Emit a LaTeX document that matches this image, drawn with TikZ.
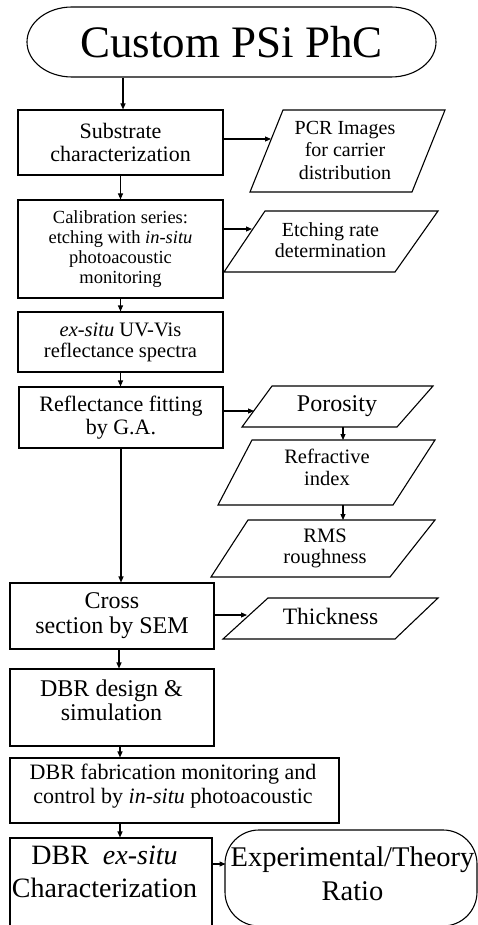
\documentclass[tikz,border=0pt]{standalone}
\usepackage{fontspec}
\setmainfont{Liberation Serif}
\usetikzlibrary{arrows.meta}
\begin{document}
\begin{tikzpicture}[x=1pt,y=-1pt,line width=1.1pt,
  box/.style={draw,rectangle,inner sep=0pt,align=center},
  txt/.style={inner sep=0pt,align=center},
  arr/.style={-{Triangle[length=6pt,width=5pt]},line width=1.1pt},
  par/.style={draw,line join=miter}]
\useasboundingbox (0,0) rectangle (478,925);
\clip (0,0) rectangle (478,925);

% title terminator
\node[txt,minimum width=409pt,minimum height=70pt,font=\fontsize{45}{50}\selectfont] (title) at (231.5,42) {Custom PSi PhC};
\draw (72,7) -- (391,7) .. controls (415.85,7) and (436,22.67) .. (436,42)
  .. controls (436,61.33) and (415.85,77) .. (391,77) -- (72,77)
  .. controls (47.15,77) and (27,61.33) .. (27,42)
  .. controls (27,22.67) and (47.15,7) .. (72,7) -- cycle;

% main column boxes
\node[box,minimum width=205pt,minimum height=65pt,font=\fontsize{22}{23.5}\selectfont] (b1) at (120.5,142.5) {Substrate\\characterization};
\node[box,minimum width=205pt,minimum height=98pt,font=\fontsize{18.5}{20}\selectfont] (b2) at (120.5,249) {Calibration series:\\etching with \textit{in-situ}\\photoacoustic\\monitoring};
\node[box,minimum width=205pt,minimum height=60pt,font=\fontsize{20.5}{21}\selectfont] (b3) at (120.5,342) {\textit{ex-situ} UV-Vis\\reflectance spectra};
\node[box,minimum width=204pt,minimum height=61pt,font=\fontsize{22}{23}\selectfont] (b4) at (121,417.5) {Reflectance fitting\\by G.A.};
\node[box,minimum width=204pt,minimum height=66pt,font=\fontsize{24}{25}\selectfont] (b5) at (112,616) {Cross\\section by SEM};
\node[box,minimum width=204pt,minimum height=77pt] (b6) at (112,707.5) {};
\node[txt,font=\fontsize{24}{24}\selectfont] (b6t) at (111.5,700) {DBR design \&\\simulation};
\node[box,minimum width=329pt,minimum height=65pt] (b7) at (174.5,790.5) {};
\node[txt,font=\fontsize{22}{24}\selectfont] (b7t) at (173,786) {DBR fabrication monitoring and\\control by \textit{in-situ} photoacoustic};
\node[box,minimum width=202pt,minimum height=100pt] (b8) at (111,888) {};
\node[txt,font=\fontsize{28}{33}\selectfont] (b8t) at (104.5,872) {DBR\ \ \textit{ex-situ}\\Characterization};
\node[draw,rounded corners=34pt,minimum width=252pt,minimum height=96pt,inner sep=0pt] (ratio) at (351,878) {};
\node[txt,font=\fontsize{28.5}{34}\selectfont] (ratiot) at (352.5,874) {Experimental/Theory\\Ratio};
\coordinate (ratioin) at (225.5,864);

% side parallelograms
\draw[par] (283,110) -- (445,110) -- (412,192) -- (250,192) -- cycle;
\node[txt,font=\fontsize{20}{22.5}\selectfont] (pcr) at (345,150) {PCR Images\\for carrier\\distribution};
\coordinate (pcrin) at (271,139);

\draw[par] (265,211) -- (438,211) -- (395,272) -- (224,272) -- cycle;
\node[txt,font=\fontsize{20}{21}\selectfont] (etch) at (330.5,240) {Etching rate\\determination};
\coordinate (etchin) at (252,229);

\draw[par] (272,386) -- (433,386) -- (397,427) -- (242,427) -- cycle;
\node[txt,font=\fontsize{24}{26}\selectfont] (por) at (337,406.5) {Porosity};
\coordinate (porin) at (254,411);
\coordinate (porout) at (343,427);

\draw[par] (252,440) -- (435,440) -- (393,505) -- (218,505) -- cycle;
\node[txt,font=\fontsize{20.5}{22}\selectfont] (refr) at (327,467) {Refractive\\index};
\coordinate (refrin) at (343,440);
\coordinate (refrout) at (343,505);

\draw[par] (248,520) -- (435,520) -- (390,577) -- (211,577) -- cycle;
\node[txt,font=\fontsize{20.5}{20.5}\selectfont] (rms) at (325,548.5) {RMS\\roughness};
\coordinate (rmsin) at (343,520);

\draw[par] (268,598) -- (438,598) -- (395,639) -- (223,639) -- cycle;
\node[txt,font=\fontsize{23.5}{25}\selectfont] (thick) at (330.5,616) {Thickness};
\coordinate (thin) at (247,615);

% connectors
\draw[arr] (title.south -| 123,0) -- (b1.north -| 123,0);
\draw[arr] (b1.east |- pcrin) -- (pcrin);
\draw[arr] (b1) -- (b2);
\draw[arr] (b2.east |- etchin) -- (etchin);
\draw[arr] (b2) -- (b3);
\draw[arr] (b3.south) -- (b3.south |- b4.north);
\draw[arr] (b4.east |- porin) -- (porin);
\draw[arr] (porout) -- (refrin);
\draw[arr] (refrout) -- (rmsin);
\draw[arr] (b4.south) -- (b4.south |- b5.north);
\draw[arr] (b5.east |- thin) -- (thin);
\draw[arr] ([xshift=7pt]b5.south) -- ([xshift=7pt]b5.south |- b6.north);
\draw[arr] ([xshift=8pt]b6.south) -- ([xshift=8pt]b6.south |- b7.north);
\draw[arr] ([xshift=9pt]b8.north |- b7.south) -- ([xshift=9pt]b8.north);
\draw[arr] (b8.east |- ratioin) -- (ratioin);
\end{tikzpicture}
\end{document}
